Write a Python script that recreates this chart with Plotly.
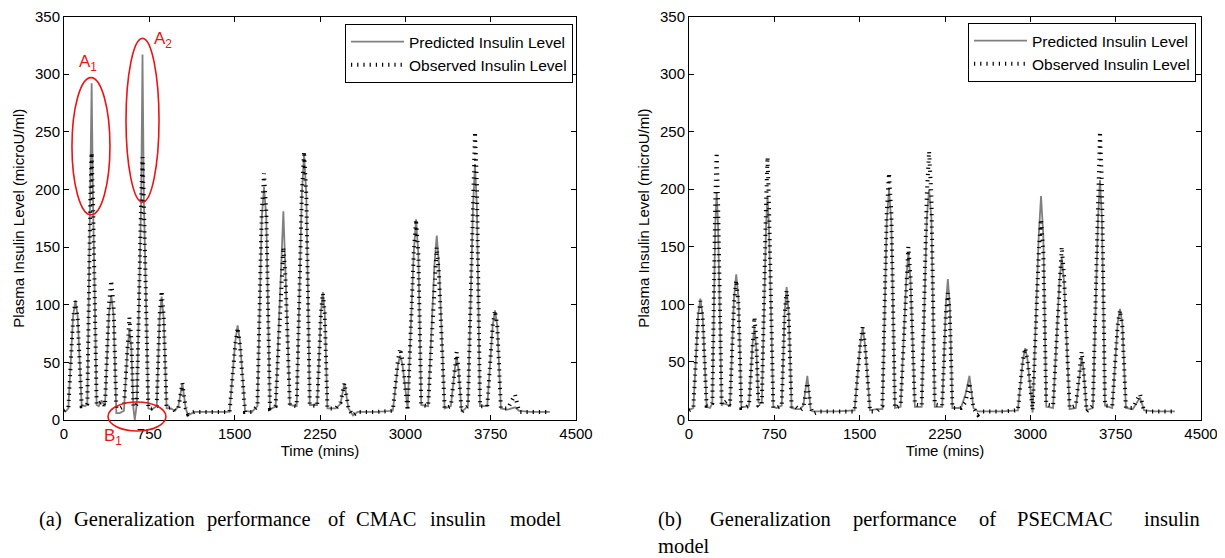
import plotly.graph_objects as go

# ---------------- data ----------------
time_min = [0, 20, 38, 80, 100, 120, 155, 185, 205, 231,
            243, 255, 287, 305, 330, 360, 395, 415, 435, 460,
            490, 527, 558, 575, 592, 610, 622, 640, 678, 690,
            702, 741, 770, 815, 840, 858, 876, 902, 940, 975,
            1005, 1040, 1070, 1090, 1145, 1300, 1455, 1505, 1526, 1547,
            1591, 1650, 1700, 1738, 1758, 1778, 1810, 1860, 1910, 1928,
            1946, 1985, 2045, 2090, 2110, 2130, 2160, 2225, 2258, 2275,
            2292, 2315, 2390, 2430, 2465, 2500, 2540, 2580, 2750, 2890,
            2935, 2955, 2975, 3020, 3074, 3094, 3114, 3140, 3200, 3256,
            3276, 3296, 3345, 3400, 3436, 3451, 3466, 3495, 3550, 3595,
            3612, 3629, 3656, 3720, 3768, 3788, 3808, 3840, 3900, 3964,
            4000, 4100, 4270]

observed = [8, 9, 10, 88, 103, 88, 12, 12, 14, 190,
            232, 190, 13, 14, 16, 12, 100, 121, 100, 10,
            10, 12, 70, 89, 70, 12, 11, 14, 190, 228,
            190, 10, 10, 12, 90, 112, 90, 10, 11, 8,
            10, 32, 10, 5, 7, 7, 7, 65, 80, 65,
            7, 7, 12, 180, 214, 180, 10, 12, 125, 150,
            125, 13, 12, 195, 233, 195, 13, 12, 92, 110,
            92, 10, 10, 15, 32, 10, 4, 7, 7, 8,
            52, 62, 52, 8, 145, 174, 145, 13, 12, 125,
            150, 125, 10, 12, 45, 59, 45, 7, 12, 205,
            250, 205, 12, 12, 82, 95, 82, 10, 10, 22,
            7, 7, 7]

pred_cmac = [8, 8, 10, 90, 104, 90, 13, 12, 14, 190,
             292, 190, 13, 12, 17, 12, 92, 108, 92, 6,
             6, 8, 62, 78, 62, 10, 0, 14, 190, 317,
             190, 10, 9, 12, 88, 107, 88, 10, 10, 8,
             12, 32, 10, 4, 7, 7, 7, 68, 82, 68,
             8, 7, 12, 175, 202, 175, 9, 12, 130, 181,
             130, 13, 12, 195, 231, 195, 13, 13, 93, 111,
             93, 10, 10, 14, 32, 10, 4, 7, 7, 8,
             48, 56, 48, 10, 145, 174, 145, 13, 12, 135,
             160, 135, 10, 12, 45, 55, 45, 7, 12, 185,
             222, 185, 12, 12, 82, 95, 82, 10, 9, 11,
             8, 7, 7]

pred_psecmac = [9, 9, 10, 90, 105, 90, 11, 10, 14, 170,
                197, 170, 12, 14, 13, 12, 105, 126, 105, 11,
                11, 12, 65, 80, 62, 15, 14, 15, 170, 194,
                170, 11, 10, 12, 92, 115, 92, 10, 9, 9,
                12, 38, 8, 7, 7, 7, 8, 65, 80, 65,
                8, 9, 9, 172, 200, 172, 10, 11, 122, 145,
                122, 11, 11, 175, 200, 175, 11, 11, 100, 122,
                100, 10, 10, 22, 38, 10, 7, 7, 7, 8,
                52, 62, 52, 6, 160, 194, 160, 11, 10, 120,
                141, 120, 9, 10, 45, 54, 45, 8, 10, 175,
                208, 175, 12, 10, 84, 96, 84, 10, 9, 19,
                8, 7, 7]

x_ticks = [0, 750, 1500, 2250, 3000, 3750, 4500]
y_ticks = [0, 50, 100, 150, 200, 250, 300, 350]
series_names = ["Predicted Insulin Level", "Observed Insulin Level"]
caption_a = ["(a)", "Generalization", "performance", "of", "CMAC", "insulin", "model"]
caption_b = ["(b)", "Generalization", "performance", "of", "PSECMAC", "insulin"]
caption_b2 = "model"

# ---------------- layout geometry ----------------
# the page body adds an 8px margin, so the figure is laid out 8px smaller
OFF = 8
W, H = 1217, 550


def PX(px):
    return (px - OFF) / W


def PY(py):
    return 1 - (py - OFF) / H


LX = [PX(64), PX(576)]
RX = [PX(689), PX(1201)]
LY = [PY(420), PY(16.5)]
RY = [PY(419.5), PY(16.5)]

SANS = "Liberation Sans, Arial, Helvetica, sans-serif"
SERIF = "Liberation Serif, Times New Roman, serif"
GRAY = "rgb(128,128,128)"
DOT = "1.2px,5px"

fig = go.Figure()
for xa, ya, pred, leg in [("x", "y", pred_cmac, "legend"), ("x2", "y2", pred_psecmac, "legend2")]:
    fig.add_trace(go.Scatter(x=time_min, y=pred, mode="lines", name=series_names[0],
                             line=dict(color=GRAY, width=1.8), xaxis=xa, yaxis=ya, legend=leg))
    fig.add_trace(go.Scatter(x=time_min, y=observed, mode="lines", name=series_names[1],
                             line=dict(color="black", width=4, dash=DOT), xaxis=xa, yaxis=ya, legend=leg))

ax = dict(showline=True, linecolor="black", linewidth=1, mirror="allticks", ticks="inside",
          ticklen=5, tickcolor="black", showgrid=False, zeroline=False, automargin=False,
          ticklabeloverflow="allow",
          tickfont=dict(family=SANS, size=15, color="black"))
xax = dict(ax, range=[0, 4500], tickvals=x_ticks, ticktext=[str(v) for v in x_ticks],
           title=dict(text="Time (mins)", font=dict(family=SANS, size=15, color="black"), standoff=3))
yax = dict(ax, range=[0, 350], tickvals=y_ticks, ticktext=[str(v) for v in y_ticks],
           title=dict(text="Plasma Insulin Level (microU/ml)", font=dict(family=SANS, size=15, color="black"), standoff=6))

leg_common = dict(bgcolor="white", bordercolor="black", borderwidth=1,
                  font=dict(family=SANS, size=15.5, color="black"), itemwidth=53,
                  yanchor="top", tracegroupgap=0)

fig.update_layout(
    width=W, height=H, margin=dict(l=0, r=0, t=0, b=0),
    paper_bgcolor="white", plot_bgcolor="white",
    xaxis=dict(xax, domain=LX, anchor="y"),
    yaxis=dict(yax, domain=LY, anchor="x"),
    xaxis2=dict(xax, domain=RX, anchor="y2"),
    yaxis2=dict(yax, domain=RY, anchor="x2"),
    legend=dict(leg_common, x=PX(573), xanchor="right", y=PY(24)),
    legend2=dict(leg_common, x=PX(968), xanchor="left", y=PY(23)),
)


def lp(t, v):
    """map left-panel data coords to paper coords"""
    return (LX[0] + t / 4500 * (LX[1] - LX[0]), LY[0] + v / 350 * (LY[1] - LY[0]))


RED = "rgb(235,20,20)"
for (t0, v0, t1, v1) in [(70, 178, 404, 297), (545, 189, 835, 331), (387, -9.5, 896, 15.6)]:
    x0, y0 = lp(t0, v0)
    x1, y1 = lp(t1, v1)
    fig.add_shape(type="circle", xref="paper", yref="paper", x0=x0, y0=y0, x1=x1, y1=y1,
                  line=dict(color=RED, width=1.6))

for txt, t, v in [("A<sub>1</sub>", 210, 310), ("A<sub>2</sub>", 870, 330), ("B<sub>1</sub>", 430, -15)]:
    px, py = lp(t, v)
    fig.add_annotation(text=txt, x=px, y=py, xref="paper", yref="paper", showarrow=False,
                       xanchor="center", yanchor="middle", font=dict(family=SANS, size=17, color=RED))

# captions (word positions)
cap_font = dict(family=SERIF, size=20.5, color="black")
for word, px in zip(caption_a, [37, 72, 205, 326, 354, 428, 508]):
    fig.add_annotation(text=word, x=PX(px), y=PY(519), xref="paper", yref="paper",
                       showarrow=False, xanchor="left", yanchor="middle", font=cap_font)
for word, px in zip(caption_b, [656, 708, 851, 977, 1015, 1142]):
    fig.add_annotation(text=word, x=PX(px), y=PY(519), xref="paper", yref="paper",
                       showarrow=False, xanchor="left", yanchor="middle", font=cap_font)
fig.add_annotation(text=caption_b2, x=PX(656), y=PY(546), xref="paper", yref="paper",
                   showarrow=False, xanchor="left", yanchor="middle", font=cap_font)

fig.write_html("out.html")
